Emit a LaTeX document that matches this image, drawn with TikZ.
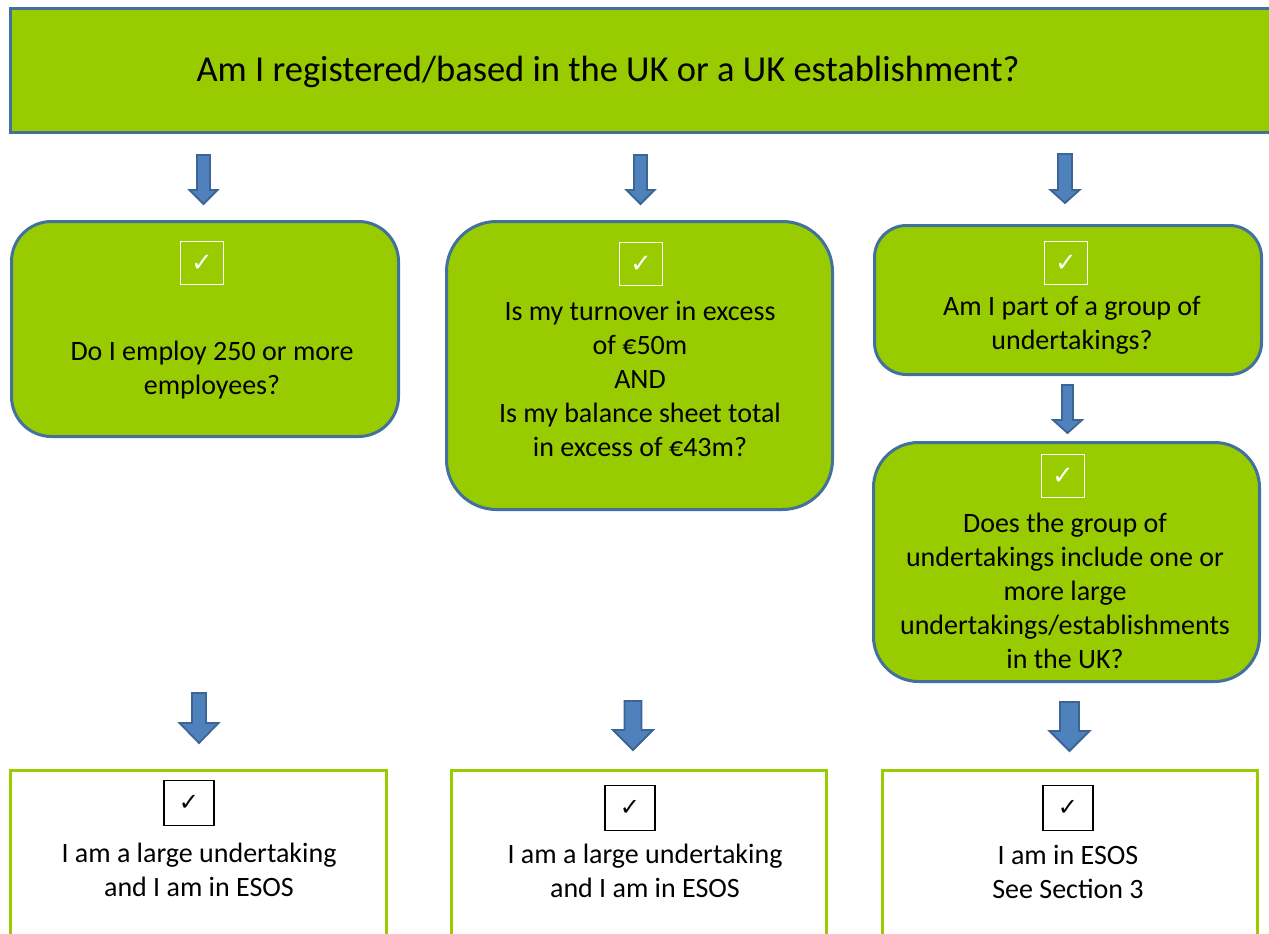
\documentclass[tikz,border=0pt]{standalone}
\usepackage{fontspec}
\setmainfont{Carlito}
\newfontfamily\symfont{DejaVu Sans}
\definecolor{lime}{HTML}{99CC00}
\definecolor{edgeblue}{HTML}{41719C}
\definecolor{arrowfill}{HTML}{4F81BD}
\definecolor{arrowedge}{HTML}{3C6494}
\tikzset{
  qbox/.style={draw=edgeblue, line width=3pt, fill=lime, inner sep=0pt},
  abox/.style={draw=lime, line width=3.5pt, fill=white, inner sep=0pt},
  qtext/.style={align=center, font=\fontsize{28}{34}\selectfont, text=black, inner sep=0pt},
  wcheck/.style={draw=white, line width=1.8pt, minimum width=43pt, minimum height=43pt, inner sep=0pt, text=white, font=\symfont\fontsize{26}{26}\selectfont},
  bcheck/.style={draw=black, line width=1.5pt, minimum width=50pt, minimum height=45pt, inner sep=0pt, text=black, font=\symfont\fontsize{24}{24}\selectfont},
  blockarrow/.style={draw=arrowedge, line width=1.8pt, fill=arrowfill, line join=miter}
}
\newcommand\barrow[6]{%
  \draw[blockarrow] (#1-#5,#2) -- (#1+#5,#2) -- (#1+#5,#3) -- (#1+#6,#3) -- (#1,#4) -- (#1-#6,#3) -- (#1-#5,#3) -- cycle;}
\begin{document}
\begin{tikzpicture}[x=1pt,y=-1pt]
\clip (0,0) rectangle (1269,934);
\fill[white] (0,0) rectangle (1269,934);

% top box
\node[qbox, minimum width=1263pt, minimum height=124pt] (top) at (642,70.5) {};
\node[qtext, font=\fontsize{36.5}{40}\selectfont] (toptext) at (608,72) {Am I registered/based in the UK or a UK establishment?};

% question boxes
\node[qbox, rounded corners=40pt, minimum width=387pt, minimum height=215pt] (A) at (205,329) {};
\node[qbox, rounded corners=50pt, minimum width=386pt, minimum height=288pt] (B) at (639.5,365.5) {};
\node[qbox, rounded corners=32pt, minimum width=387pt, minimum height=149pt] (C) at (1068,300) {};
\node[qbox, rounded corners=45pt, minimum width=386pt, minimum height=239pt] (D) at (1066.5,562) {};

\node[wcheck] (Ack) at (202,263) {✓};
\node[wcheck] (Bck) at (641,264) {✓};
\node[wcheck] (Cck) at (1066,263) {✓};
\node[wcheck] (Dck) at (1063,476) {✓};

\node[qtext] (At) at (212,370) {Do I employ 250 or more\\employees?};
\node[qtext] (Bt) at (640,379) {Is my turnover in excess\\of €50m\\AND\\Is my balance sheet total\\in excess of €43m?};
\node[qtext] (Ct) at (1072,325) {Am I part of a group of\\undertakings?};
\node[qtext] (Dt) at (1065,591) {Does the group of\\undertakings include one or\\more large\\undertakings/establishments\\in the UK?};

% answer boxes
\node[abox, minimum width=376pt, minimum height=229pt] (E) at (198.5,885) {};
\node[abox, minimum width=375pt, minimum height=229pt] (F) at (639,885) {};
\node[abox, minimum width=375pt, minimum height=229pt] (G) at (1070,885) {};

\node[bcheck] (Eck) at (189,803) {✓};
\node[bcheck] (Fck) at (630,808) {✓};
\node[bcheck] (Gck) at (1068,808) {✓};

\node[qtext] (Et) at (199,869.5) {I am a large undertaking\\and I am in ESOS};
\node[qtext] (Ft) at (645,871) {I am a large undertaking\\and I am in ESOS};
\node[qtext] (Gt) at (1068,872) {I am in ESOS\\See Section 3};

% arrows
\barrow{203.5}{155}{190}{204}{6.5}{14}
\barrow{640.5}{155}{190}{204}{6.5}{14}
\barrow{1065}{154}{190}{203}{7}{14.5}
\barrow{1067.5}{385}{420}{433}{5.5}{14.5}
\barrow{199}{693}{723}{743}{7}{19.5}
\barrow{633}{701}{730}{750}{8.5}{20}
\barrow{1069.5}{702}{731}{751}{9.5}{20}
\end{tikzpicture}
\end{document}
